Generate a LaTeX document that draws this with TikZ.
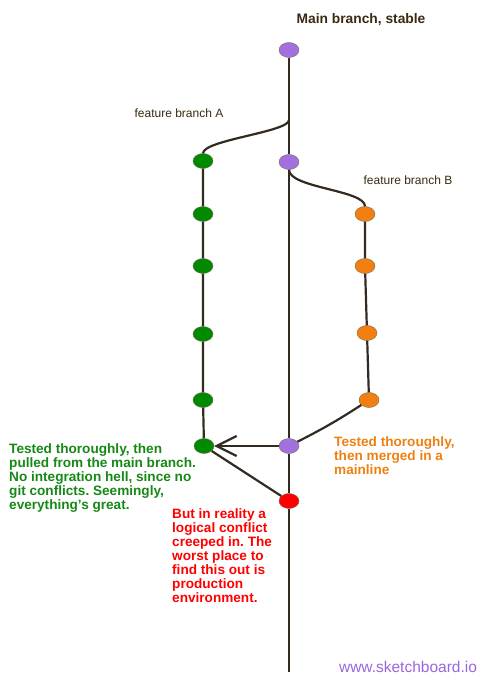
\documentclass[tikz,border=0pt]{standalone}
\usepackage{fontspec}
\setmainfont{Liberation Sans}
\usetikzlibrary{shapes.geometric,arrows.meta}
\definecolor{mainpurple}{HTML}{A370E0}
\definecolor{featgreen}{HTML}{008A00}
\definecolor{featorange}{HTML}{F28010}
\definecolor{conflictred}{HTML}{FF0000}
\definecolor{linedark}{HTML}{332B22}
\definecolor{labeldark}{HTML}{3A2A10}
\definecolor{notegreen}{HTML}{168816}
\definecolor{noteorange}{HTML}{EE8010}
\definecolor{webpurple}{HTML}{9966DD}
\frenchspacing
\begin{document}
\begin{tikzpicture}[
  x=1pt, y=-1pt,
  commit/.style={ellipse, draw=labeldark!70, line width=0.4pt, minimum width=20pt, minimum height=15pt, inner sep=0pt},
  maincommit/.style={commit, fill=mainpurple},
  acommit/.style={commit, fill=featgreen},
  bcommit/.style={commit, fill=featorange},
  badcommit/.style={commit, fill=conflictred},
  branch/.style={draw=linedark, line width=2.2pt},
  note/.style={font=\bfseries\fontsize{13.6}{14}\selectfont, align=left, anchor=north west, inner sep=0pt},
  tag/.style={font=\fontsize{12}{14}\selectfont, text=labeldark, inner sep=0pt},
  node distance=2cm
]
\useasboundingbox (0,0) rectangle (503,685);

\node[maincommit] (main1) at (289,50) {};
\node[maincommit] (main2) at (289,162) {};
\node[maincommit] (main3) at (289,446) {};
\node[badcommit] (bad) at (289,501) {};
\coordinate (mainend) at (289,672);
\coordinate (forkA) at (289,120);

\node[acommit] (a1) at (203,161) {};
\node[acommit, below of=a1, node distance=53pt] (a2) {};
\node[acommit, below of=a2, node distance=52pt] (a3) {};
\node[acommit, below of=a3, node distance=68pt] (a4) {};
\node[acommit, below of=a4, node distance=66pt] (a5) {};
\node[acommit] (a6) at (204,446) {};

\node[bcommit] (b1) at (365,214) {};
\node[bcommit, below of=b1, node distance=52pt] (b2) {};
\node[bcommit] (b3) at (367,333) {};
\node[bcommit] (b4) at (369,400) {};

\node[font=\bfseries\fontsize{13.8}{16}\selectfont, text=labeldark] (title) at (361,20) {Main branch, stable};
\node[tag] (tagA) at (179,113) {feature branch A};
\node[tag] (tagB) at (408,180) {feature branch B};
\node[note, text=notegreen] (noteA) at (9,443) {Tested thoroughly, then\\pulled from the main branch.\\No integration hell, since no\\git conflicts. Seemingly,\\everything's great.};
\node[note, text=noteorange] (noteB) at (334,436) {Tested thoroughly,\\then merged in a\\mainline};
\node[note, text=conflictred] (noteBad) at (172,508) {But in reality a\\logical conflict\\creeped in. The\\worst place to\\find this out is\\production\\environment.};
\node[font=\fontsize{15.5}{17}\selectfont, text=webpurple, inner sep=0pt] (web) at (408,667) {www.sketchboard.io};

\draw[branch] (main1) -- (main2) -- (main3) -- (bad) -- (mainend);
\draw[branch] (forkA) .. controls (289,132) and (203,140) .. (a1.north);
\draw[branch] (a1) -- (a2) -- (a3) -- (a4) -- (a5) -- (a6);
\draw[branch] (main2.south) .. controls (289,188) and (365,190) .. (b1.north);
\draw[branch] (b1) -- (b2) -- (b3) -- (b4);
\draw[branch] (b4) to[bend left=3] (main3);
\draw[branch, -{Straight Barb[length=20pt, width=20pt, line width=2.2pt]}] (main3) -- (a6);
\draw[branch] (a6) -- (bad);
\end{tikzpicture}
\end{document}
